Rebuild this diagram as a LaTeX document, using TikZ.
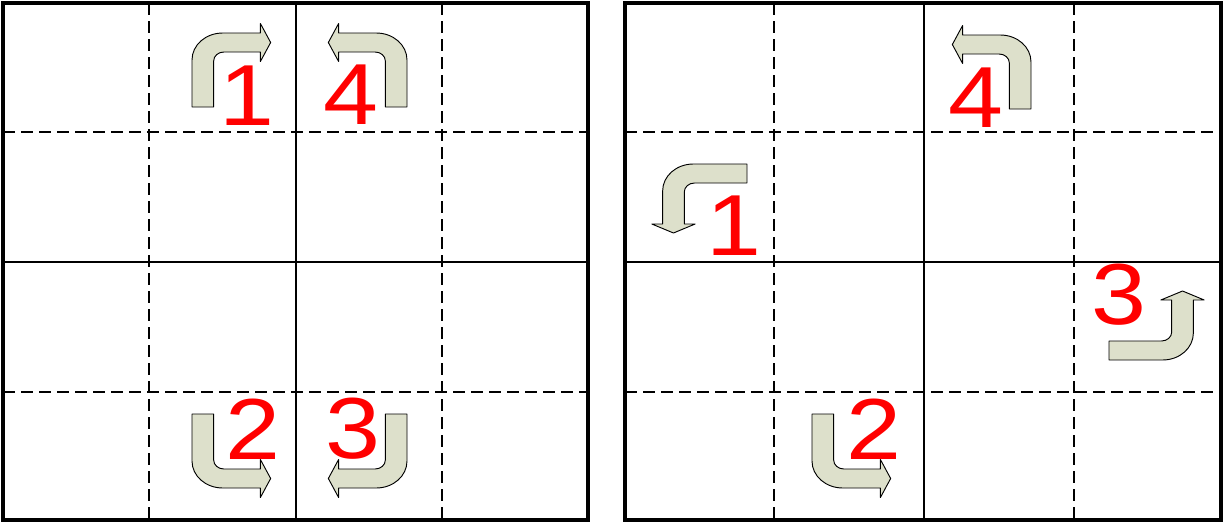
\documentclass[tikz,border=0pt]{standalone}
\usepackage{fontspec}
\setmainfont{Liberation Sans}
\definecolor{arrowfill}{RGB}{221,224,203}
\definecolor{digitred}{RGB}{255,0,0}
\tikzset{
  frame/.style={line width=3pt},
  midline/.style={line width=1.9pt},
  thinmid/.style={line width=1.2pt},
  griddash/.style={line width=1.3pt, dash pattern=on 9pt off 4.5pt},
  bent/.style={draw=black, line width=0.7pt, fill=arrowfill, line join=round},
  digit/.style={text=digitred, font=\fontsize{65}{65}\selectfont, inner sep=0pt, anchor=base},
  bentarrow/.pic={\path[bent] (0,0) -- (0,-47) .. controls (0,-62) and (12,-74) .. (27,-74)
     -- (60,-74) -- (60,-83.5) -- (69,-64.5) -- (60,-45.5) -- (60,-55) -- (28,-55)
     .. controls (23,-55) and (19,-51) .. (19,-46) -- (19,0) -- cycle;}
}
\begin{document}
\begin{tikzpicture}[x=0.75pt,y=-0.75pt]
\useasboundingbox (0,0) rectangle (1225,525);
% ---- left grid ----
\draw[griddash] (149,3) -- (149,520);
\draw[griddash] (442,3) -- (442,520);
\draw[griddash] (3,132) -- (588,132);
\draw[griddash] (3,392) -- (588,392);
\draw[midline] (296,3) -- (296,520);
\draw[midline] (3,262) -- (588,262);
\draw[frame] (3,3) rectangle (588,520);
% ---- right grid ----
\draw[griddash] (774,3) -- (774,520);
\draw[griddash] (1074,3) -- (1074,520);
\draw[griddash] (625,132) -- (1221,132);
\draw[griddash] (625,392) -- (1221,392);
\draw[thinmid] (924,3) -- (924,520);
\draw[thinmid] (625,262) -- (1221,262);
\draw[frame] (625,3) rectangle (1221,520);
% ---- arrows left ----
\begin{scope}[shift={(192,107)}, x={(0.855pt,0pt)}, y={(0pt,-0.75pt)}]
  \pic (a1L) {bentarrow};
\end{scope}
\begin{scope}[shift={(407,107)}, x={(-0.855pt,0pt)}, y={(0pt,-0.75pt)}]
  \pic (a4L) {bentarrow};
\end{scope}
\begin{scope}[shift={(192,414)}, x={(0.855pt,0pt)}, y={(0pt,0.75pt)}]
  \pic (a2L) {bentarrow};
\end{scope}
\begin{scope}[shift={(407,414)}, x={(-0.855pt,0pt)}, y={(0pt,0.75pt)}]
  \pic (a3L) {bentarrow};
\end{scope}
% ---- arrows right ----
\begin{scope}[shift={(1031,109)}, x={(-0.855pt,0pt)}, y={(0pt,-0.75pt)}]
  \pic (a4R) {bentarrow};
\end{scope}
\begin{scope}[shift={(812,414)}, x={(0.855pt,0pt)}, y={(0pt,0.75pt)}]
  \pic (a2R) {bentarrow};
\end{scope}
\begin{scope}[shift={(747,164)}, x={(0pt,-0.75pt)}, y={(0.855pt,0pt)}]
  \pic (a1R) {bentarrow};
\end{scope}
\begin{scope}[shift={(1109,360)}, x={(0pt,0.75pt)}, y={(-0.855pt,0pt)}]
  \pic (a3R) {bentarrow};
\end{scope}
% ---- digits ----
\node[digit] (d1L) at (247,125) {\scalebox{1.14}[1]{1}};
\node[digit] (d4L) at (351,124) {\scalebox{1.14}[1]{4}};
\node[digit] (d2L) at (253,459) {\scalebox{1.14}[1]{2}};
\node[digit] (d3L) at (353,458) {\scalebox{1.14}[1]{3}};
\node[digit] (d1R) at (734,255) {\scalebox{1.14}[1]{1}};
\node[digit] (d4R) at (976,127) {\scalebox{1.14}[1]{4}};
\node[digit] (d2R) at (874,459) {\scalebox{1.14}[1]{2}};
\node[digit] (d3R) at (1119,324) {\scalebox{1.14}[1]{3}};
\end{tikzpicture}
\end{document}
